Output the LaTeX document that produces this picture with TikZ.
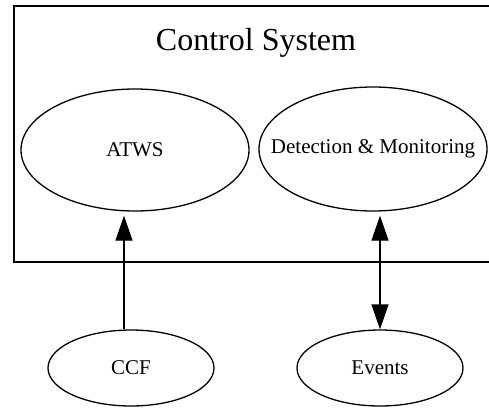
\documentclass[tikz,border=0pt]{standalone}
\usepackage{fontspec}
\setmainfont{Liberation Serif}
\usetikzlibrary{shapes.geometric,arrows.meta}
\begin{document}
\begin{tikzpicture}[x=1pt,y=-1pt,
  ell/.style={draw,ellipse,line width=1.3pt,inner sep=0pt},
  lab/.style={font=\fontsize{21}{24}\selectfont,inner sep=0pt},
  arr/.style={line width=1.3pt,-{Triangle[length=25pt,width=17pt]}},
  darr/.style={line width=1.3pt,{Triangle[length=25pt,width=17pt]}-{Triangle[length=25pt,width=17pt]}}]
\useasboundingbox (0,0) rectangle (489,407);
\clip (0,0) rectangle (489,407);
\draw[line width=1.3pt] (495,6) -- (14,6) -- (14,262) -- (495,262);
\node[font=\fontsize{32}{36}\selectfont] (title) at (256,43) {Control System};
\node[ell,minimum width=228pt,minimum height=122pt,label={[lab]center:ATWS}] (ATWS) at (135,150) {};
\node[ell,minimum width=228pt,minimum height=124pt,label={[lab]center:Detection \& Monitoring}] (DM) at (373,149) {};
\node[ell,minimum width=166pt,minimum height=76pt,label={[lab]center:CCF}] (CCF) at (131,368) {};
\node[ell,minimum width=166pt,minimum height=76pt,label={[lab]center:Events}] (EV) at (380,368) {};
\coordinate (c1) at (124,0);
\coordinate (c2) at (380,0);
\draw[arr,shorten >=4pt] (c1 |- CCF.north) -- (c1 |- ATWS.south);
\draw[darr,shorten <=4pt] (c2 |- DM.south) -- (EV.north);
\end{tikzpicture}
\end{document}
